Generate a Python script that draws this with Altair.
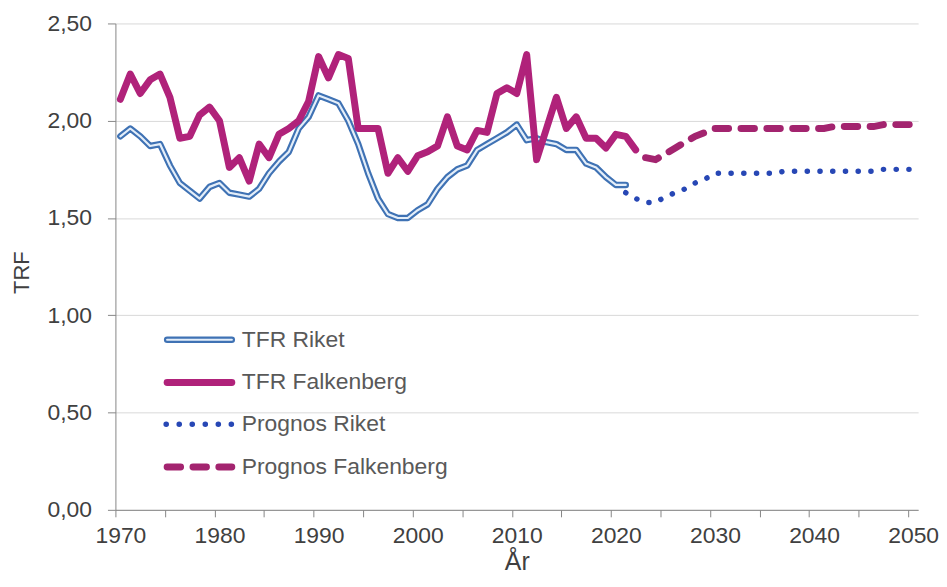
import altair as alt
import pandas as pd

# ---------------- data ----------------
hist_riket_years = list(range(1970, 2022))
tfr_riket = [1.92, 1.96, 1.92, 1.87, 1.88, 1.77, 1.68, 1.64, 1.60, 1.66,
             1.68, 1.63, 1.62, 1.61, 1.65, 1.73, 1.79, 1.84, 1.96, 2.02,
             2.13, 2.11, 2.09, 2.00, 1.88, 1.73, 1.60, 1.52, 1.50, 1.50,
             1.54, 1.57, 1.65, 1.71, 1.75, 1.77, 1.85, 1.88, 1.91, 1.94,
             1.98, 1.90, 1.91, 1.89, 1.88, 1.85, 1.85, 1.78, 1.76, 1.71,
             1.67, 1.67]

hist_falk_years = list(range(1970, 2023))
tfr_falkenberg = [2.11, 2.24, 2.14, 2.21, 2.24, 2.12, 1.91, 1.92, 2.03, 2.07,
                  2.00, 1.76, 1.81, 1.69, 1.88, 1.81, 1.93, 1.96, 2.00, 2.10,
                  2.33, 2.22, 2.34, 2.32, 1.96, 1.96, 1.96, 1.73, 1.81, 1.74,
                  1.82, 1.84, 1.87, 2.02, 1.87, 1.85, 1.95, 1.94, 2.14, 2.17,
                  2.14, 2.34, 1.80, 1.96, 2.12, 1.96, 2.02, 1.91, 1.91, 1.86,
                  1.93, 1.92, 1.85]

prog_riket_years = list(range(2021, 2051))
prognos_riket = [1.63, 1.60, 1.58, 1.58, 1.61, 1.63, 1.65, 1.68, 1.70, 1.73,
                 1.73, 1.73, 1.73, 1.73, 1.73, 1.73, 1.74, 1.74, 1.74, 1.74,
                 1.74, 1.74, 1.74, 1.74, 1.74, 1.74, 1.75, 1.75, 1.75, 1.75]

prog_falk_years = list(range(2023, 2051))
prognos_falkenberg = [1.81, 1.80, 1.83, 1.86, 1.89, 1.92, 1.94, 1.96,
                      1.96, 1.96, 1.96, 1.96, 1.96, 1.96, 1.96, 1.96, 1.96,
                      1.96, 1.96, 1.97, 1.97, 1.97, 1.97, 1.97, 1.98, 1.98,
                      1.98, 1.98]

series_names = ["TFR Riket", "TFR Falkenberg", "Prognos Riket", "Prognos Falkenberg"]
y_tick_values = [0.0, 0.5, 1.0, 1.5, 2.0, 2.5]
x_label_years = [1970, 1980, 1990, 2000, 2010, 2020, 2030, 2040, 2050]
x_tick_positions = [1969.5 + 5 * k for k in range(17)]

frames = []
for name, yrs, vals in [
    (series_names[0], hist_riket_years, tfr_riket),
    (series_names[1], hist_falk_years, tfr_falkenberg),
    (series_names[2], prog_riket_years, prognos_riket),
    (series_names[3], prog_falk_years, prognos_falkenberg),
]:
    frames.append(pd.DataFrame({"year": yrs, "value": vals, "series": name}))
df = pd.concat(frames, ignore_index=True)

# ---------------- styling ----------------
FONT = "Liberation Sans"
TEXT = "#404040"
AXIS = "#868686"
GRID = "#d9d9d9"
C_RIKET = "#3f72b4"
C_RIKET_IN = "#e4eef9"
C_FALK = "#b0227a"
C_PROG_RIKET = "#2747b5"
C_PROG_FALK = "#a3246f"

x_enc = alt.X(
    "year:Q",
    scale=alt.Scale(domain=[1969.5, 2050.5], nice=False, zero=False),
    axis=alt.Axis(
        values=x_tick_positions + x_label_years,
        labelExpr="datum.value % 10 == 0 ? toString(datum.value) : ''",
        tickOpacity={"condition": {"test": "datum.value % 10 == 0", "value": 0}, "value": 1},
        labelOverlap=False,
        labelFlush=False,
        grid=False,
        tickSize=7,
        tickColor=AXIS,
        domainColor=AXIS,
        labelPadding=8,
        labelFontSize=23,
        labelColor=TEXT,
        labelFont=FONT,
        title="År",
        titleFontSize=25,
        titleFontWeight="normal",
        titleColor=TEXT,
        titleFont=FONT,
        titleY=60,
        titleBaseline="alphabetic",
    ),
)

y_enc = alt.Y(
    "value:Q",
    scale=alt.Scale(domain=[0, 2.5], nice=False, zero=True),
    axis=alt.Axis(
        values=y_tick_values,
        labelExpr="replace(format(datum.value, '.2f'), '.', ',')",
        grid=True,
        gridColor=GRID,
        gridWidth=1,
        tickSize=8,
        tickColor=AXIS,
        domainColor=AXIS,
        labelPadding=16,
        labelFontSize=23,
        labelColor=TEXT,
        labelFont=FONT,
        labelOverlap=False,
        labelFlush=False,
        title="TRF",
        titleFontSize=22,
        titleFontWeight="normal",
        titleColor=TEXT,
        titleFont=FONT,
        titleX=-94,
        titleY=250,
        titleBaseline="middle",
    ),
)

base = alt.Chart(df).encode(x=x_enc, y=y_enc)


def only(name):
    return alt.datum.series == name


riket_outer = base.transform_filter(only(series_names[0])).mark_line(
    stroke=C_RIKET, strokeWidth=6.5, strokeJoin="round", strokeCap="round")
riket_inner = base.transform_filter(only(series_names[0])).mark_line(
    stroke=C_RIKET_IN, strokeWidth=2.2, strokeJoin="round", strokeCap="round")
falk_line = base.transform_filter(only(series_names[1])).mark_line(
    stroke=C_FALK, strokeWidth=7, strokeJoin="round", strokeCap="round")
prog_riket_line = base.transform_filter(only(series_names[2])).mark_line(
    stroke=C_PROG_RIKET, strokeWidth=5.5, strokeDash=[0.1, 12.7], strokeCap="round")
prog_falk_line = base.transform_filter(only(series_names[3])).mark_line(
    stroke=C_PROG_FALK, strokeWidth=7, strokeDash=[13.5, 12.5], strokeCap="round")

# ---------------- legend (inside plot) ----------------
leg_rows = [318, 361, 403, 446]
sx1, sx2 = 52, 117
lab_x = 127

leg_src = alt.Chart(pd.DataFrame({"series": series_names}))

leg_layers = []
# TFR Riket (double line)
leg_layers.append(leg_src.transform_filter(only(series_names[0])).mark_rule(
    stroke=C_RIKET, strokeWidth=6.5, strokeCap="round").encode(
    x=alt.value(sx1), x2=alt.value(sx2), y=alt.value(leg_rows[0])))
leg_layers.append(leg_src.transform_filter(only(series_names[0])).mark_rule(
    stroke=C_RIKET_IN, strokeWidth=2.2, strokeCap="round").encode(
    x=alt.value(sx1), x2=alt.value(sx2), y=alt.value(leg_rows[0])))
# TFR Falkenberg
leg_layers.append(leg_src.transform_filter(only(series_names[1])).mark_rule(
    stroke=C_FALK, strokeWidth=7, strokeCap="round").encode(
    x=alt.value(sx1), x2=alt.value(sx2), y=alt.value(leg_rows[1])))
# Prognos Riket
leg_layers.append(leg_src.transform_filter(only(series_names[2])).mark_rule(
    stroke=C_PROG_RIKET, strokeWidth=5.5, strokeDash=[0.1, 13], strokeCap="round").encode(
    x=alt.value(51), x2=alt.value(sx2), y=alt.value(leg_rows[2])))
# Prognos Falkenberg
leg_layers.append(leg_src.transform_filter(only(series_names[3])).mark_rule(
    stroke=C_PROG_FALK, strokeWidth=7, strokeDash=[13.5, 12.5], strokeCap="round").encode(
    x=alt.value(sx1), x2=alt.value(sx2), y=alt.value(leg_rows[3])))

for i, name in enumerate(series_names):
    leg_layers.append(leg_src.transform_filter(only(name)).mark_text(
        align="left", baseline="middle", font=FONT, fontSize=23, color="#595959").encode(
        x=alt.value(lab_x), y=alt.value(leg_rows[i]), text="series:N"))

chart = alt.layer(
    riket_outer, riket_inner, falk_line, prog_riket_line, prog_falk_line,
    *leg_layers
).properties(
    width=807,
    height=489,
    autosize="none",
    padding={"left": 108, "top": 14, "right": 21, "bottom": 68},
    background="white",
).configure_view(stroke=None)

chart.save("out.html", embed_options={"renderer": "svg", "actions": False})
